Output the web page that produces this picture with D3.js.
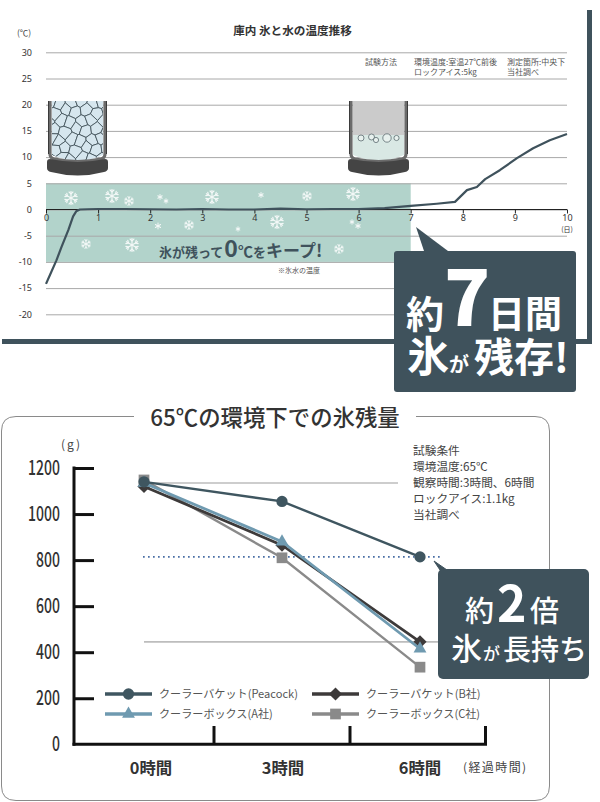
<!DOCTYPE html>
<html><head><meta charset="utf-8">
<script src="https://cdn.jsdelivr.net/npm/d3@7"></script>
<style>
html,body{margin:0;padding:0;background:#fff}
svg{display:block}
text{font-family:"Noto Sans CJK JP","Noto Sans",sans-serif}
</style></head><body>
<svg id="c" width="600" height="802"></svg>
<script>
// ---- top chart data
const tempDays  = [0,0.08,0.2,0.3,0.43,0.52,0.58,0.65,0.8,1,1.5,2,2.5,3,3.5,4,4.5,5,5.5,6,6.5,7,7.5,7.85,8.08,8.27,8.43,8.71,9.04,9.35,9.67,10];
const tempVals  = [-14.2,-12.4,-9.7,-7.1,-3.9,-1.3,-0.35,0,0.05,0.1,0.1,0.05,0,0.1,0,0,0.15,0.05,0.1,0.1,0.25,0.7,1.1,1.45,3.7,4.3,5.8,7.5,9.8,11.7,13.2,14.4];
const tempTicksY = [30,25,20,15,10,5,0,-5,-10,-15,-20];
const dayTicks  = [0,1,2,3,4,5,6,7,8,9,10];
const keepBand  = {d0:0,d1:7,t0:5,t1:-10};
// ---- bottom chart data
const hours = ["0時間","3時間","6時間"];
const peacock = [1140,1055,814];
const brandA  = [1135,880,415];
const brandB  = [1120,865,445];
const brandC  = [1148,810,335];
const gramTicks = [0,200,400,600,800,1000,1200];
const legendNames = ["クーラーバケット(Peacock)","クーラーボックス(A社)","クーラーバケット(B社)","クーラーボックス(C社)"];
const seriesColors = ["#3f5660","#6f9ab0","#3d3a3a","#8a8a8a"];
const seriesSymbols = ["circle","triangle","diamond","square"];
// decorative snowflakes: x, y, size
const flakes = [[71,198,6.5],[112,196,6.5],[129,201,4.5],[160,197,2.5],[166,201,2.2],[212,197,6.5],[261,195,2.5],[277,222,6.5],[189,225,4.5],[158,226,3],[238,229,2.2],[86,244,4.5],[132,245,6.5],[307,196,4.5],[353,194,6.5],[352,222,2.2],[358,226,2.5],[339,249,4.5]];
const jitter = [[2,-1],[-2,2],[1,2],[-1,-2],[3,1],[-3,-1],[0,3],[2,-3],[-2,0],[1,-2],[-1,3],[3,-2],[-3,2]];

const dark = "#3f525c";
const svg = d3.select("#c");
const defs = svg.append("defs");

// ===================== TOP CHART
const x = d3.scaleLinear().domain([0,10]).range([46,567]);
const y = d3.scaleLinear().domain([30,-20]).range([52.3,314.3]);
const topG = svg.append("g");

topG.append("text").attr("x",292.5).attr("y",35).attr("text-anchor","middle")
  .attr("font-size",11.6).attr("font-weight",700).attr("fill","#333").text("庫内 氷と水の温度推移");
topG.append("text").attr("x",17).attr("y",36).attr("font-size",8.5).attr("fill","#444").text("(℃)");

// green band below the grid
topG.append("rect").attr("x",x(keepBand.d0)).attr("y",y(keepBand.t0))
  .attr("width",x(keepBand.d1)-x(keepBand.d0)).attr("height",y(keepBand.t1)-y(keepBand.t0)).attr("fill","#b2d3cb");

const yAxis = topG.append("g").attr("transform","translate(46,0)")
  .call(d3.axisLeft(y).tickValues(tempTicksY).tickSize(-521).tickPadding(14).tickFormat(d=>d));
yAxis.select(".domain").remove();
yAxis.selectAll("line").attr("stroke","#a8a8a8").attr("stroke-width",1);
yAxis.selectAll("text").attr("font-size",9).attr("fill","#333").style("font-family",'"Noto Sans",sans-serif');

// bottles
function bottle(g,ox,kind){
  const b = g.append("g").attr("transform",`translate(${ox},0)`);
  const clipId = "clip"+kind;
  defs.append("clipPath").attr("id",clipId).append("path").attr("d",`M52 101V155Q78 166 103 155V101Z`);
  if(kind==="ice"){
    const sites=[]; let k=0;
    for(let r=0;r<7;r++) for(let c=0;c<6;c++){
      const j=jitter[k++%jitter.length];
      sites.push([50+c*10.4+(r%2?5:0)+j[0]*.8,102+r*9.4+j[1]*.8]);
    }
    const vor=d3.Delaunay.from(sites).voronoi([40,90,115,170]);
    const ice=b.append("g").attr("clip-path",`url(#${clipId})`);
    ice.append("rect").attr("x",52).attr("y",101).attr("width",51).attr("height",66).attr("fill","#eef4f6");
    ice.selectAll("path").data(sites).join("path")
      .attr("d",(d,i)=>vor.renderCell(i)).attr("fill","#d6e6ee").attr("stroke","#3a4a52")
      .attr("stroke-width",.8).attr("stroke-linejoin","round");
  } else {
    const w=b.append("g").attr("clip-path",`url(#${clipId})`);
    w.append("rect").attr("x",52).attr("y",101).attr("width",51).attr("height",34).attr("fill","#cbcbcb");
    w.append("rect").attr("x",52).attr("y",135).attr("width",51).attr("height",32).attr("fill","#d9e8e4");
    [[60,138,3],[70.5,137,3],[75,140,2.6],[86,138,4.2],[95.5,138,2.6]].forEach(p=>
      w.append("circle").attr("cx",p[0]).attr("cy",p[1]).attr("r",p[2]).attr("fill","#e8f1ee").attr("stroke","#4a5a60").attr("stroke-width",.7));
  }
  // walls
  b.append("path").attr("d","M50 101V154Q50 158 54 159Q78 164 101 159Q105 158 105 154V101")
    .attr("fill","none").attr("stroke","#6b6b6b").attr("stroke-width",3.2);
  b.append("path").attr("d","M48.5 101V154M106.5 101V154").attr("stroke","#2f2f2f").attr("stroke-width",.9).attr("fill","none");
  b.append("path").attr("d","M47 162Q47 159 50 159Q78 165 105 159Q108 159 108 162V168Q108 171 104 172Q78 179 51 172Q47 171 47 168Z").attr("fill","#444");
}
bottle(topG,0,"ice");
bottle(topG,301,"water");

// snowflakes
const fl = topG.append("g").attr("stroke","#fff").attr("fill","none").attr("stroke-linecap","round");
flakes.forEach(([fx,fy,r])=>{
  const g=fl.append("g").attr("transform",`translate(${fx},${fy})`).attr("stroke-width",r>5?1.2:1).attr("opacity",.85);
  d3.range(6).forEach(i=>{
    const s=g.append("g").attr("transform",`rotate(${i*60})`);
    s.append("line").attr("y2",-r);
    if(r>3.5){
      const b=r*.62,tt=r*.3;
      s.append("path").attr("d",`M${-tt} ${-b-tt}L0 ${-b}L${tt} ${-b-tt}`);
    }
  });
});

// x axis at zero
const xAxis = topG.append("g").attr("transform",`translate(0,${y(0)})`)
  .call(d3.axisBottom(x).tickValues(dayTicks).tickSize(4).tickPadding(1).tickFormat(d=>d));
xAxis.select(".domain").attr("stroke","#222").attr("stroke-width",1).attr("d",`M46 0H567`);
xAxis.selectAll("line").attr("stroke","#222");
xAxis.selectAll("text").attr("font-size",9).attr("fill","#333").style("font-family",'"Noto Sans",sans-serif');
topG.append("text").attr("x",567).attr("y",232).attr("text-anchor","middle").attr("font-size",7).attr("fill","#333").text("(日)");

// temperature line
topG.append("path").datum(tempDays.map((d,i)=>[d,tempVals[i]]))
  .attr("d",d3.line().x(d=>x(d[0])).y(d=>y(d[1])))
  .attr("fill","none").attr("stroke",dark).attr("stroke-width",2.2).attr("stroke-linejoin","round");

// band text
const bt = topG.append("text").attr("x",159).attr("y",257).attr("fill",dark).attr("font-weight",700).attr("font-size",13);
bt.append("tspan").text("氷が残って");
bt.append("tspan").attr("font-size",23).attr("dx",1).text("0");
bt.append("tspan").attr("font-size",15).text("℃");
bt.append("tspan").text("を");
bt.append("tspan").attr("font-size",17).text("キープ!");
topG.append("text").attr("x",278).attr("y",273).attr("font-size",7).attr("fill","#555").text("※氷水の温度");

// notes
[[365,65,"試験方法"],[414,65,"環境温度:室温27℃前後"],[414,74.5,"ロックアイス:5kg"],[507,65,"測定箇所:中央下"],[507,74.5,"当社調べ"]]
 .forEach(n=>topG.append("text").attr("x",n[0]).attr("y",n[1]).attr("font-size",8).attr("fill","#555").text(n[2]));

// frame
topG.append("rect").attr("x",2).attr("y",339).attr("width",590).attr("height",5).attr("fill",dark);
topG.append("rect").attr("x",587).attr("y",10).attr("width",5).attr("height",334).attr("fill",dark);

// multi-run white callout copy: one text element with positioned runs
function callout(g,runs){
  const tx=g.append("text").attr("fill","#fff");
  runs.forEach(r=>tx.append("tspan").attr("x",r[0]).attr("y",r[1]).attr("font-size",r[3]).attr("font-weight",r[4]).text(r[2]));
}

// callout 1
topG.append("path").attr("d","M416 227L448 251H424Z").attr("fill",dark);
topG.append("rect").attr("x",394).attr("y",251).attr("width",182).attr("height",141).attr("rx",3).attr("fill",dark);
callout(topG,[[406,328,"約",38,700],[444,326,"7",76,900],[488,328,"日間",37,700],[407,372,"氷",42,700],[449,372,"が",20,700],[474,372,"残存!",40,700]]);

// ===================== BOTTOM CHART
const bot = svg.append("g");
bot.append("path").attr("d","M134 416.5H16Q1.5 416.5 1.5 431V786Q1.5 800.5 16 800.5H535Q549.5 800.5 549.5 786V431Q549.5 416.5 535 416.5H416")
  .attr("fill","none").attr("stroke","#8a8a8a").attr("stroke-width",1);
bot.append("text").attr("x",275).attr("y",426).attr("text-anchor","middle").attr("font-size",22.4).attr("font-weight",500).attr("fill","#333").text("65℃の環境下での氷残量");

const gy = d3.scaleLinear().domain([0,1200]).range([744.3,468]);
const gx = d3.scalePoint().domain(hours).range([144,420]);
const gxBand = d3.scaleBand().domain(hours).range([77,485]);

// reference lines
bot.append("line").attr("x1",144).attr("x2",398).attr("y1",gy(peacock[0]-5)).attr("y2",gy(peacock[0]-5)).attr("stroke","#bdbdbd").attr("stroke-width",1.6);
bot.append("line").attr("x1",144).attr("x2",440).attr("y1",gy(brandB[2])).attr("y2",gy(brandB[2])).attr("stroke","#bdbdbd").attr("stroke-width",1.6);
bot.append("line").attr("x1",143).attr("x2",440).attr("y1",gy(peacock[2])).attr("y2",gy(peacock[2])).attr("stroke","#4a6fa5").attr("stroke-width",1.7).attr("stroke-dasharray","1.7 3.3");

// axes
const ay = bot.append("g").attr("transform","translate(74,0)")
  .call(d3.axisLeft(gy).tickValues(gramTicks).tickSize(0).tickPadding(14).tickFormat(d=>d));
ay.select(".domain").attr("stroke","#111").attr("stroke-width",3).attr("d","M0 466.5V745.8");
ay.selectAll("line").attr("x2",20).attr("stroke","#111").attr("stroke-width",3);
ay.selectAll(".tick").filter(d=>d===0).select("line").remove();
const narrow=.7;
ay.selectAll("text").attr("font-size",20).attr("font-weight",500).attr("fill","#333")
  .attr("x",-14/narrow).attr("transform",`scale(${narrow},1)`);
bot.append("text").attr("x",61).attr("y",449).attr("font-size",12).attr("letter-spacing",2).attr("fill","#444").text("(g)");

bot.append("line").attr("x1",72.5).attr("x2",487).attr("y1",744.3).attr("y2",744.3).attr("stroke","#111").attr("stroke-width",3);
bot.selectAll(".xt").data(hours).join("line").attr("class","xt")
  .attr("x1",d=>gxBand(d)+gxBand.bandwidth()+(d==="6時間"?0.5:1)).attr("x2",d=>gxBand(d)+gxBand.bandwidth()+(d==="6時間"?0.5:1))
  .attr("y1",744.3).attr("y2",726).attr("stroke","#111").attr("stroke-width",3);
bot.selectAll(".xl").data(hours).join("text").attr("class","xl")
  .attr("x",(d,i)=>gx(d)+[7,1,0][i]).attr("y",774).attr("text-anchor","middle").attr("font-size",16.4).attr("font-weight",700).attr("fill","#333").text(d=>d);
bot.append("text").attr("x",463).attr("y",772).attr("font-size",12).attr("letter-spacing",1.4).attr("fill","#444").text("(経過時間)");

// series, drawn in picture order: C, B, A, Peacock
const series = [brandC,brandB,brandA,peacock];
const idx = [3,2,1,0];
const sym = {circle:d3.symbolCircle,triangle:d3.symbolTriangle,diamond:d3.symbolDiamond2,square:d3.symbolSquare};
const sizes = {circle:100,triangle:72,diamond:110,square:115};
const widths = [2.4,2.8,2.8,2.4];
series.forEach((vals,si)=>{
  const k=idx[si];
  const g=bot.append("g");
  g.append("path").datum(vals).attr("fill","none").attr("stroke",seriesColors[k]).attr("stroke-width",widths[k])
    .attr("d",d3.line().x((d,i)=>gx(hours[i])).y(d=>gy(d)));
  g.selectAll("path.m").data(vals).join("path").attr("class","m")
    .attr("transform",(d,i)=>`translate(${gx(hours[i])},${gy(d)})`)
    .attr("d",d3.symbol().type(sym[seriesSymbols[k]]).size(sizes[seriesSymbols[k]]))
    .attr("fill",seriesColors[k]);
});

// legend
const lx=[105,312], ly=[694,714];
legendNames.forEach((name,i)=>{
  const cx=lx[i<2?0:1], cy=ly[i%2];
  const g=bot.append("g");
  g.append("line").attr("x1",cx).attr("x2",cx+47).attr("y1",cy).attr("y2",cy).attr("stroke",seriesColors[i]).attr("stroke-width",3.6);
  g.append("path").attr("transform",`translate(${cx+23.5},${cy})`)
    .attr("d",d3.symbol().type(sym[seriesSymbols[i]]).size(sizes[seriesSymbols[i]])).attr("fill",seriesColors[i]);
  g.append("text").attr("x",cx+54).attr("y",cy+4).attr("font-size",11.1).attr("fill","#555").text(name);
});

// notes
["試験条件","環境温度:65℃","観察時間:3時間、6時間","ロックアイス:1.1kg","当社調べ"].forEach((s,i)=>
  bot.append("text").attr("x",413).attr("y",455+i*16).attr("font-size",11.7).attr("fill","#444").text(s));

// callout 2
bot.append("path").attr("d","M434 561L447 570H440Z").attr("fill",dark).attr("stroke",dark).attr("stroke-width",1);
bot.append("rect").attr("x",438).attr("y",569).attr("width",151).attr("height",110).attr("rx",5).attr("fill",dark);
callout(bot,[[465,622,"約",29,500],[497,622,"2",50,600],[530,622,"倍",29,500],[451,660,"氷",31,500],[483,660,"が",17,500],[503,660,"長持ち",28,500]]);
</script>
</body></html>
